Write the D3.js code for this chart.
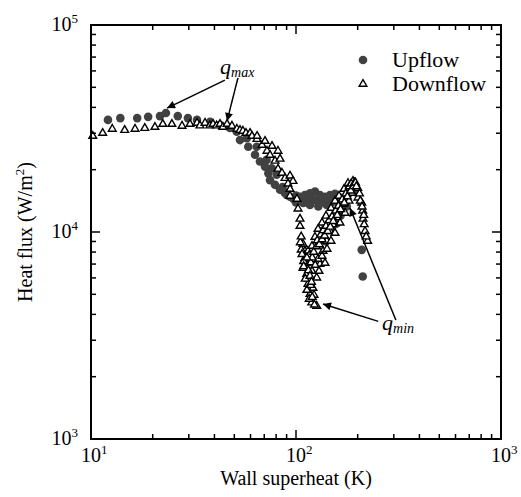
<!DOCTYPE html>
<html lang="en">
<head>
<meta charset="UTF-8">
<title>Heat flux vs wall superheat</title>
<script src="https://cdn.jsdelivr.net/npm/d3@7"></script>
<style>
  body { margin: 0; background: #fff; }
  text { font-family: "Liberation Serif", "DejaVu Serif", serif; fill: #000; }
</style>
</head>
<body>
<div id="grafica"></div>
<script>
// upflow points (wall superheat K, heat flux W/m2)
const upX = [12.1, 13.9, 16.8, 19.0, 21.7, 23.2, 26.5, 29.7, 32.9, 38.1, 42.6, 47.6, 51.4, 53.3, 57.5, 58.5, 63.1, 64.3, 66.7, 70.6,
  71.9, 73.3, 74.7, 76.1, 79.0, 80.5, 83.6, 86, 88, 90.1, 93.5, 97, 100, 100, 104.6, 108.5, 110.6, 113, 117, 117, 120, 123.8, 125,
  128.5, 130.9, 133, 138.5, 141.2, 145, 146.5, 152.1, 155, 158, 162, 167.1, 135.9, 140, 150, 158, 165, 176.8, 185, 195, 209.2, 211.6]
const upY = [34800, 35500, 35500, 36000, 36300, 37600, 36300, 35500, 34800, 34100, 32900, 31800, 30500, 27800, 28400, 25800, 23600, 25800, 21900, 20700,
  22300, 19200, 17800, 20300, 16900, 18900, 16000, 16500, 15500, 15100, 14800, 14500, 15000, 13900, 14800, 13800, 15100, 14300, 15400, 13500, 14500, 15700, 14200,
  13300, 15100, 14000, 14800, 13500, 14200, 15100, 14000, 15300, 14800, 14700, 14600, 10200, 9000, 10500, 11000, 12000, 13300, 16500, 16000, 8200, 6100]

// downflow points
const downX = [10.2, 11.4, 12.7, 14.6, 16.4, 18.3, 20.5, 22.4, 24.8, 27.8, 30.4, 32.9, 34, 36.0, 38, 39.4, 41, 42.6, 44, 46.1, 48.7,
  51.5, 53.3, 55.1, 57.0, 59.7, 61.0, 64.5, 64.6, 68.3, 70.6, 72.2, 74.7, 76.4, 79.0, 81.7, 81.7, 83.6, 85.4, 88.4, 93.5, 96.7, 91.4, 93.5, 93.5, 101.1, 102.3, 104.6, 104.6,
  108.2, 110.6, 110.6, 108.2, 112.8, 114.4, 117.0, 119.3, 126.2,
  126.2, 130.9, 135.4, 141.2, 146.5, 151.5, 158, 163.9, 169.6, 176.8, 183.4, 189.7,
  114.4, 119.7, 123.8, 128.1, 133.9, 140.1, 148.2, 155, 162.1, 171.5, 179.4,
  119.7, 128.1, 133.9, 141.7, 148.2, 155, 163.9, 173.4, 181.4, 187.6,
  111.9, 115.7, 121, 129.5, 138.5, 122.4,
  116, 118, 120, 122, 124, 126, 127, 130, 132, 134, 136, 138, 140, 143, 145, 147, 150, 152, 156, 159, 161, 165, 168, 172, 175, 178, 182, 185, 186, 191, 193,
  106, 107, 109, 109, 111, 113, 116, 118, 120, 123, 113, 115, 117, 119, 105, 106,
  200.6, 209.2, 211.6, 212.3, 217.2, 223.6, 195, 200, 197, 204, 206, 210, 214, 215, 220]
const downY = [29400, 30400, 31800, 31400, 31800, 32100, 32500, 33600, 33600, 32900, 33600, 34000, 33000, 34000, 33000, 33600, 33000, 33600, 32500, 33600, 32900,
  31800, 31400, 31100, 30400, 30400, 29400, 28400, 29400, 26600, 27800, 24900, 23800, 26300, 22300, 24900, 20400, 22800, 19500, 18400, 18900, 17800, 17300, 16300, 15100, 14600, 13100, 11700, 10800,
  8850, 8180, 7570, 6770, 6330, 5670, 5070, 4610, 4440,
  6080, 7080, 8180, 9150, 10200, 11000, 11900, 12800, 13800, 15400, 16500, 17800,
  8180, 8650, 9570, 10450, 11200, 12100, 13200, 14300, 15100, 16300, 17400,
  6550, 7490, 7740, 8370, 9150, 10000, 11200, 12500, 14300, 15600,
  7160, 5990, 5420, 6550, 7160, 5020,
  7800, 7200, 7600, 8100, 7000, 8600, 9200, 8800, 9800, 9300, 10300, 9700, 10800, 10200, 11500, 10700, 12000, 11400, 12800, 12200, 13500, 13000, 14500, 14000, 15500, 15000, 16800, 16000, 17300, 16800, 17500,
  8300, 7900, 7300, 6900, 6000, 5300, 4800, 5600, 4900, 4500, 7600, 6600, 6200, 5800, 9000, 9600,
  14800, 14000, 12800, 11700, 10200, 9150, 17500, 16500, 16800, 15500, 14300, 13400, 12200, 11000, 9600]

const xDecades = [1, 2, 3]
const yDecades = [3, 4, 5]

// annotation arrows [from x, from y, to x, to y]
const qmaxArrows = [[45.0, 54200, 23.5, 39700], [52.1, 55500, 46.1, 34400]]
const qminArrows = [[252, 3700, 135.4, 4490], [307, 3760, 183.4, 13060]]
const qmaxLabel = [42.6, 58000]
const qminLabel = [262.8, 3360]

const W = 521, H = 497
const m = { left: 91, top: 25, right: 20, bottom: 58 }
const pw = W - m.left - m.right, ph = H - m.top - m.bottom

const svg = d3.select('#grafica').append('svg')
  .attr('width', W).attr('height', H)

svg.append('defs').append('marker')
  .attr('id', 'arr').attr('viewBox', '0 0 10 10')
  .attr('refX', 10).attr('refY', 5)
  .attr('markerWidth', 10).attr('markerHeight', 8)
  .attr('markerUnits', 'userSpaceOnUse')
  .attr('orient', 'auto')
  .append('path').attr('d', 'M0,0L10,5L0,10z').attr('fill', '#000')

const g = svg.append('g').attr('transform', `translate(${m.left},${m.top})`)

const x = d3.scaleLog().domain([10, 1000]).range([0, pw])
const y = d3.scaleLog().domain([1000, 100000]).range([ph, 0])

// data
const up = upX.map((v, i) => [v, upY[i]])
const down = downX.map((v, i) => [v, downY[i]])

g.selectAll('circle.up').data(up).enter()
  .append('circle').attr('class', 'up')
  .attr('cx', d => x(d[0])).attr('cy', d => y(d[1]))
  .attr('r', 4.3).attr('fill', '#414141')

const tri = d3.symbol().type(d3.symbolTriangle).size(26)
g.selectAll('path.down').data(down).enter()
  .append('path').attr('class', 'down')
  .attr('d', tri)
  .attr('transform', d => `translate(${x(d[0])},${y(d[1]) + 1})`)
  .attr('fill', '#fff').attr('stroke', '#000').attr('stroke-width', 1.4)

// ticks
const xTicks = [], yTicks = []
xDecades.forEach(e => { for (let k = 1; k < 10; k++) if (Math.pow(10, e) * k <= 1000) xTicks.push([Math.pow(10, e) * k, k === 1]) })
xTicks.push([1000, true])
yDecades.forEach(e => { for (let k = 1; k < 10; k++) if (Math.pow(10, e) * k <= 100000) yTicks.push([Math.pow(10, e) * k, k === 1]) })
yTicks.push([100000, true])

const tk = g.append('g').attr('stroke', '#000').attr('stroke-width', 1.5)
xTicks.forEach(t => {
  const len = t[1] ? 9 : 5, px = x(t[0])
  tk.append('line').attr('x1', px).attr('x2', px).attr('y1', ph).attr('y2', ph - len)
  tk.append('line').attr('x1', px).attr('x2', px).attr('y1', 0).attr('y2', len)
})
yTicks.forEach(t => {
  const len = t[1] ? 9 : 5, py = y(t[0])
  tk.append('line').attr('x1', 0).attr('x2', len).attr('y1', py).attr('y2', py)
  tk.append('line').attr('x1', pw).attr('x2', pw - len).attr('y1', py).attr('y2', py)
})

g.append('rect').attr('width', pw).attr('height', ph)
  .attr('fill', 'none').attr('stroke', '#000').attr('stroke-width', 2)

// tick labels
xDecades.forEach(e => {
  const t = g.append('text').attr('x', x(Math.pow(10, e)) - 10).attr('y', ph + 23)
    .attr('font-size', 20)
  t.append('tspan').text('10')
  t.append('tspan').attr('dy', -8).attr('font-size', 13).text(e)
})
yDecades.forEach(e => {
  const t = g.append('text').attr('x', -13).attr('y', y(Math.pow(10, e)) + 6)
    .attr('font-size', 20).attr('text-anchor', 'end')
  t.append('tspan').text('10')
  t.append('tspan').attr('dy', -8).attr('font-size', 13).text(e)
})

// axis titles
g.append('text').attr('x', pw / 2).attr('y', ph + 46)
  .attr('text-anchor', 'middle').attr('font-size', 20).text('Wall superheat (K)')
const yt = svg.append('text').attr('transform', `translate(32,${m.top + ph / 2}) rotate(-90)`)
  .attr('text-anchor', 'middle').attr('font-size', 20)
yt.append('tspan').text('Heat flux (W/m')
yt.append('tspan').attr('dy', -8).attr('font-size', 13).text('2')
yt.append('tspan').attr('dy', 8).text(')')

// legend
const lg = g.append('g').attr('transform', `translate(${pw - 138},35)`)
lg.append('circle').attr('cx', 0).attr('cy', 0).attr('r', 4.3).attr('fill', '#414141')
lg.append('path').attr('d', tri).attr('transform', 'translate(0,24)')
  .attr('fill', '#fff').attr('stroke', '#000').attr('stroke-width', 1.4)
lg.append('text').attr('x', 29).attr('y', 7).attr('font-size', 22).text('Upflow')
lg.append('text').attr('x', 29).attr('y', 31).attr('font-size', 22).text('Downflow')

// annotations
const ann = g.append('g')
qmaxArrows.concat(qminArrows).forEach(a => {
  ann.append('line')
    .attr('x1', x(a[0])).attr('y1', y(a[1])).attr('x2', x(a[2])).attr('y2', y(a[3]))
    .attr('stroke', '#000').attr('stroke-width', 1.5).attr('marker-end', 'url(#arr)')
})
function qLabel(pos, sub) {
  const t = ann.append('text').attr('x', x(pos[0])).attr('y', y(pos[1]))
    .attr('font-style', 'italic').attr('font-size', 22)
  t.append('tspan').text('q')
  t.append('tspan').attr('dy', 3).attr('font-size', 14).text(sub)
}
qLabel(qmaxLabel, 'max')
qLabel(qminLabel, 'min')
</script>
</body>
</html>
